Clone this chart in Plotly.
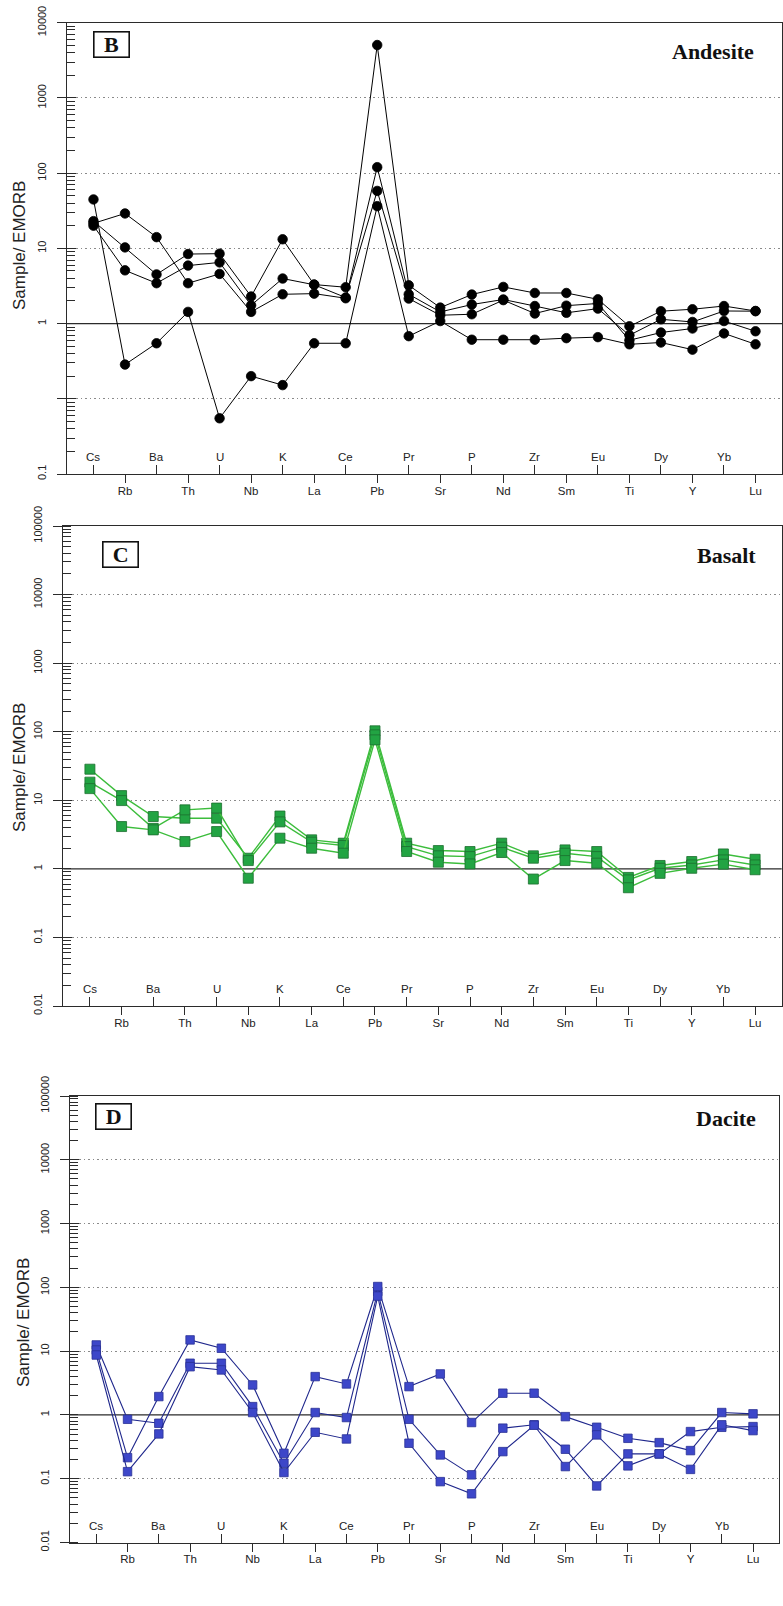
import plotly.graph_objects as go

# ---------------- data ----------------
elements = ["Cs", "Rb", "Ba", "Th", "U", "Nb", "K", "La", "Ce", "Pb", "Pr",
            "Sr", "P", "Nd", "Zr", "Sm", "Eu", "Ti", "Dy", "Y", "Yb", "Lu"]

andesite_1 = [21.5, 29.1, 14.1, 3.44, 4.57, 1.43, 2.45, 2.5, 2.17, 120, 2.45,
              1.43, 1.79, 2.09, 1.71, 1.39, 1.58, 0.70, 1.14, 1.05, 1.47, 1.46]
andesite_2 = [23, 10.3, 4.5, 8.4, 8.5, 2.29, 13.2, 3.3, 3.04, 5050, 3.23,
              1.63, 2.43, 3.07, 2.55, 2.55, 2.1, 0.92, 1.46, 1.55, 1.71, 1.47]
andesite_3 = [20, 5.1, 3.44, 5.9, 6.5, 1.75, 3.97, 3.28, 2.22, 58, 2.15,
              1.29, 1.33, 2.05, 1.36, 1.73, 1.85, 0.60, 0.76, 0.86, 1.08, 0.79]
andesite_4 = [44.7, 0.285, 0.547, 1.43, 0.055, 0.2, 0.152, 0.547, 0.547, 36.4, 0.68,
              1.08, 0.61, 0.61, 0.61, 0.64, 0.66, 0.53, 0.56, 0.45, 0.74, 0.53]

basalt_1 = [28.4, 11.7, 5.8, 5.48, 5.48, 1.43, 5.9, 2.65, 2.37, 103, 2.37,
            1.85, 1.79, 2.37, 1.55, 1.89, 1.79, 0.75, 1.12, 1.28, 1.65, 1.38]
basalt_2 = [18.4, 9.9, 3.9, 7.25, 7.7, 1.32, 4.84, 2.45, 2.19, 90, 2.11,
            1.55, 1.51, 2.07, 1.43, 1.69, 1.51, 0.69, 1.02, 1.14, 1.35, 1.14]
basalt_3 = [14.8, 4.14, 3.7, 2.5, 3.5, 0.73, 2.8, 2.0, 1.69, 76, 1.79,
            1.25, 1.18, 1.73, 0.71, 1.32, 1.21, 0.53, 0.86, 1.02, 1.17, 0.97]

dacite_1 = [12.5, 0.855, 0.74, 6.46, 6.46, 1.35, 0.175, 1.09, 0.91, 86, 0.855,
            0.236, 0.115, 0.62, 0.70, 0.29, 0.077, 0.245, 0.245, 0.548, 0.64, 0.656]
dacite_2 = [10.4, 0.214, 1.94, 15, 11.1, 2.95, 0.25, 3.99, 3.06, 103, 2.78,
            4.39, 0.76, 2.19, 2.19, 0.94, 0.64, 0.43, 0.368, 0.276, 1.09, 1.04]
dacite_3 = [8.7, 0.129, 0.504, 5.7, 5.07, 1.09, 0.125, 0.535, 0.42, 73, 0.36,
            0.09, 0.058, 0.266, 0.69, 0.155, 0.486, 0.159, 0.245, 0.14, 0.70, 0.568]

ytick_vals_b = [0.01, 0.1, 1, 10, 100, 1000, 10000]
ytick_text_b = ["0.1", "", "1", "10", "100", "1000", "10000"]
ytick_vals_cd = [0.01, 0.1, 1, 10, 100, 1000, 10000, 100000]
ytick_text_cd = ["0.01", "0.1", "1", "10", "100", "1000", "10000", "100000"]

# ---------------- layout geometry ----------------
W, H = 783, 1606
AX = "#2b2b2b"
SANS = "Liberation Sans, Arial, sans-serif"
SERIF = "Liberation Serif, Times New Roman, serif"

panels = [
    dict(letter="B", rock="Andesite", series=[andesite_1, andesite_2, andesite_3, andesite_4],
         xpx=(67, 782), ypx=(22.7, 474), yr=(-2, 4), tv=ytick_vals_b, tt=ytick_text_b,
         symbol="circle", size=9.5, fill="#000000", edge="#000000", line="#000000", lw=1.0,
         box=(111.7, 44), rock_xy=(756, 51), title_xy=(20, 246)),
    dict(letter="C", rock="Basalt", series=[basalt_1, basalt_2, basalt_3],
         xpx=(63.3, 781.7), ypx=(526, 1006), yr=(-2, 5), tv=ytick_vals_cd, tt=ytick_text_cd,
         symbol="square", size=10, fill="#22a443", edge="#1c6e2e", line="#3cbd3c", lw=1.4,
         box=(120.5, 554), rock_xy=(758, 555), title_xy=(19, 768)),
    dict(letter="D", rock="Dacite", series=[dacite_1, dacite_2, dacite_3],
         xpx=(70, 779.3), ypx=(1096, 1542.5), yr=(-2, 5), tv=ytick_vals_cd, tt=ytick_text_cd,
         symbol="square", size=8.5, fill="#3d47c9", edge="#2a3196", line="#1f278c", lw=1.1,
         box=(113.3, 1116.5), rock_xy=(757.7, 1118), title_xy=(23, 1323)),
]

fig = go.Figure()
idx = list(range(len(elements)))
inner_idx = idx[0::2]
outer_idx = idx[1::2]
annotations = []
shapes = []

for p_i, p in enumerate(panels):
    n = p_i * 2 + 1
    xa, xb = f"x{'' if n == 1 else n}", f"x{n + 1}"
    ya, yb = f"y{'' if n == 1 else n}", f"y{n + 1}"
    xkey, xkey2 = f"xaxis{'' if n == 1 else n}", f"xaxis{n + 1}"
    ykey, ykey2 = f"yaxis{'' if n == 1 else n}", f"yaxis{n + 1}"
    xdom = [p["xpx"][0] / W, p["xpx"][1] / W]
    ydom = [1 - p["ypx"][1] / H, 1 - p["ypx"][0] / H]
    xr = [-0.84, len(elements) - 1 + 0.84]
    grid_vals = [v for v in p["tv"] if v != 1]

    # empty traces so that the overlaying tick axes get drawn
    fig.add_trace(go.Scatter(x=[], y=[], xaxis=xb, yaxis=ya, showlegend=False, hoverinfo="skip"))
    fig.add_trace(go.Scatter(x=[], y=[], xaxis=xa, yaxis=yb, showlegend=False, hoverinfo="skip"))
    for s in p["series"]:
        fig.add_trace(go.Scatter(
            x=idx, y=s, xaxis=xa, yaxis=ya, mode="lines+markers",
            line=dict(color=p["line"], width=p["lw"]),
            marker=dict(symbol=p["symbol"], size=p["size"], color=p["fill"],
                        line=dict(color=p["edge"], width=0.8)),
            showlegend=False, hoverinfo="skip"))

    fig.update_layout(**{
        xkey: dict(domain=xdom, range=xr, anchor=ya, showgrid=False, zeroline=False,
                   automargin=False,
                   showline=True, linecolor=AX, linewidth=1.2, mirror=True,
                   tickmode="array", tickvals=outer_idx,
                   ticktext=[elements[i] for i in outer_idx],
                   ticks="outside", ticklen=8, tickcolor=AX, tickwidth=1.2,
                   ticklabelstandoff=-2,
                   tickfont=dict(family=SANS, size=11.5, color="#222")),
        xkey2: dict(domain=xdom, range=xr, anchor=ya, overlaying=xa, side="bottom",
                    automargin=False,
                    showgrid=False, zeroline=False, showline=False,
                    tickmode="array", tickvals=inner_idx, showticklabels=False,
                    ticks="inside", ticklen=9, tickcolor=AX, tickwidth=1.2),
        ykey: dict(domain=ydom, type="log", range=list(p["yr"]), anchor=xa,
                   automargin=False,
                   showline=True, linecolor=AX, linewidth=1.2, mirror=True,
                   tickmode="array", tickvals=p["tv"], ticktext=p["tt"],
                   ticks="outside", ticklen=9, tickcolor=AX, tickwidth=1.2,
                   tickangle=-90, ticklabelstandoff=7,
                   tickfont=dict(family=SANS, size=11, color="#222"),
                   showgrid=False,
                   minor=dict(ticks="inside", ticklen=8, tickcolor=AX, tickwidth=1,
                              dtick="D1", showgrid=False),
                   zeroline=False),
        ykey2: dict(domain=ydom, type="log", range=list(p["yr"]), anchor=xa,
                    overlaying=ya, side="left", showline=False, automargin=False,
                    showgrid=True, gridcolor="#8a8a8a", gridwidth=1, griddash="1.5px,3px",
                    tickmode="array", tickvals=grid_vals, showticklabels=False,
                    ticks="inside", ticklen=9, tickcolor=AX, tickwidth=1.2,
                    zeroline=False),
    })

    # solid reference line at Sample/EMORB = 1
    shapes.append(dict(type="line", xref=f"{xa} domain", yref=ya, x0=0, x1=1, y0=1, y1=1,
                       line=dict(color=AX, width=1.3), layer="below"))

    # element labels standing inside the plot above the inward ticks
    for i in inner_idx:
        annotations.append(dict(
            xref=xa, yref=f"{ya} domain", x=i, y=0, yshift=17,
            text=elements[i], showarrow=False, xanchor="center", yanchor="middle",
            font=dict(family=SANS, size=11.5, color="#222")))

    annotations.append(dict(
        xref="paper", yref="paper", x=p["box"][0] / W, y=1 - p["box"][1] / H,
        text=f"<b>{p['letter']}</b>", showarrow=False, xanchor="center", yanchor="middle",
        font=dict(family=SERIF, size=22, color="#111"), bgcolor="white",
        bordercolor="#111", borderwidth=1.6, borderpad=0, width=34, height=24))
    annotations.append(dict(
        xref="paper", yref="paper", x=p["rock_xy"][0] / W, y=1 - p["rock_xy"][1] / H,
        text=f"<b>{p['rock']}</b>", showarrow=False, xanchor="right", yanchor="middle",
        font=dict(family=SERIF, size=22, color="#111")))
    annotations.append(dict(
        xref="paper", yref="paper", x=p["title_xy"][0] / W, y=1 - p["title_xy"][1] / H,
        text="Sample/ EMORB", showarrow=False, textangle=-90,
        xanchor="center", yanchor="middle",
        font=dict(family=SANS, size=17, color="#222")))

fig.update_layout(
    width=W, height=H, margin=dict(l=0, r=0, t=0, b=0, autoexpand=False),
    paper_bgcolor="white", plot_bgcolor="white",
    annotations=annotations, shapes=shapes, showlegend=False)

fig.write_html("out.html")
